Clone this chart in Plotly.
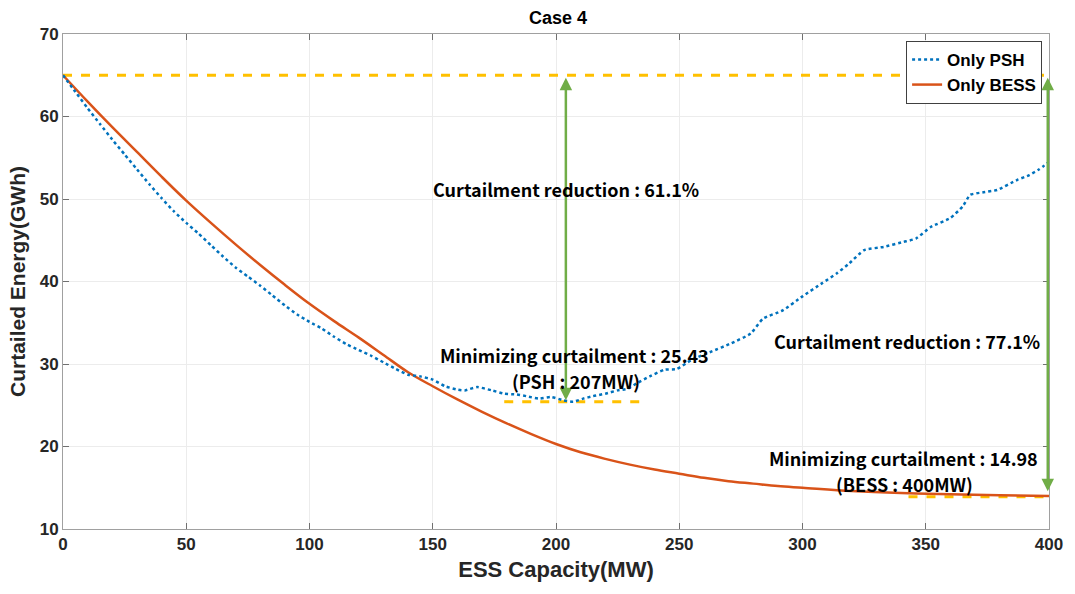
import plotly.graph_objects as go

# ---- data ----
psh_x = [0, 5, 10, 15, 20, 25, 30, 35, 40, 45, 50, 55, 60, 65, 70, 75, 80, 85, 90, 95,
         100, 105, 110, 115, 120, 125, 130, 135, 140, 145, 150, 155, 160, 163, 168, 174,
         179, 184, 188, 193, 198, 203, 207, 211, 215, 220, 225, 229, 233, 238, 244, 249,
         255, 263, 271, 279, 284, 292, 300, 308, 314, 319, 325, 333, 341, 346, 352, 360,
         365, 368, 373, 379, 387, 392, 396, 400]
psh_y = [65.0, 63.0, 61.0, 59.1, 57.2, 55.4, 53.6, 51.8, 50.1, 48.5, 47.1, 45.8, 44.4, 43.0,
         41.7, 40.6, 39.5, 38.3, 37.1, 36.0, 35.1, 34.3, 33.3, 32.4, 31.7, 31.0, 30.2, 29.4,
         28.7, 28.5, 28.1, 27.3, 26.9, 26.8, 27.2, 26.8, 26.4, 26.3, 26.1, 25.8, 26.0, 25.6,
         25.43, 25.8, 26.1, 26.4, 26.8, 27.0, 27.7, 28.5, 29.3, 29.4, 30.5, 31.5, 32.5, 33.7,
         35.5, 36.5, 38.2, 39.8, 41.0, 42.2, 43.8, 44.2, 44.8, 45.2, 46.6, 47.7, 49.1, 50.5,
         50.8, 51.1, 52.3, 52.9, 53.6, 54.5]

bess_x = [0, 10, 20, 30, 40, 50, 60, 70, 80, 90, 100, 110, 120, 130, 140, 150, 160, 170,
          180, 190, 200, 210, 220, 230, 240, 250, 260, 270, 280, 290, 300, 320, 340, 360,
          380, 400]
bess_y = [65.0, 61.8, 58.7, 55.7, 52.7, 49.8, 47.1, 44.5, 42.0, 39.6, 37.3, 35.2, 33.2,
          31.1, 29.0, 27.3, 25.7, 24.2, 22.8, 21.5, 20.3, 19.3, 18.5, 17.8, 17.2, 16.7,
          16.2, 15.8, 15.5, 15.2, 15.0, 14.6, 14.35, 14.2, 14.1, 14.0]

base_level = 65.0
psh_min_level = 25.43
bess_min_level = 13.9
psh_min_range = [179, 236]
bess_min_range = [343, 400]
base_range = [0, 400]
psh_arrow_x = 204
bess_arrow_x = 399.5

x_ticks = [0, 50, 100, 150, 200, 250, 300, 350, 400]
y_ticks = [10, 20, 30, 40, 50, 60, 70]

# annotation texts: (x, y, text)
labels = [
    (204, 51.2, "Curtailment reduction : 61.1%"),
    (342.3, 32.8, "Curtailment reduction : 77.1%"),
    (207.5, 31.05, "Minimizing curtailment : 25.43"),
    (208.0, 27.95, "(PSH : 207MW)"),
    (341.0, 18.55, "Minimizing curtailment : 14.98"),
    (341.5, 15.45, "(BESS : 400MW)"),
]

BLUE = "#0072BD"
ORANGE = "#D95319"
GOLD = "#FFC000"
GREEN = "#70AD47"
TXT = "#262626"
ANN_FONT = "Noto Sans CJK KR"

fig = go.Figure()

# yellow reference dashes
for xr, lvl in [(base_range, base_level), (psh_min_range, psh_min_level), (bess_min_range, bess_min_level)]:
    fig.add_trace(go.Scatter(x=xr, y=[lvl, lvl], mode="lines", showlegend=False,
                             line=dict(color=GOLD, width=3, dash="dash"), hoverinfo="skip"))

fig.add_trace(go.Scatter(x=bess_x, y=bess_y, mode="lines", name="Only BESS",
                         line=dict(color=ORANGE, width=2.5, shape="spline"), legendrank=2))
fig.add_trace(go.Scatter(x=psh_x, y=psh_y, mode="lines", name="Only PSH",
                         line=dict(color=BLUE, width=2.5, dash="dot", shape="spline", smoothing=0.5),
                         legendrank=1))

# green double-headed arrows
for ax_x, lo in [(psh_arrow_x, psh_min_level), (bess_arrow_x, bess_min_level + 0.5)]:
    fig.add_annotation(x=ax_x, y=base_level - 0.3, ax=ax_x, ay=lo, xref="x", yref="y",
                       axref="x", ayref="y", showarrow=True, arrowhead=2, startarrowhead=2,
                       arrowside="end+start", arrowsize=1, startarrowsize=1,
                       arrowwidth=2.5, arrowcolor=GREEN, text="")

ann_font = dict(family=ANN_FONT, size=18, color="black", weight="bold")
for lx, ly, lt in labels:
    fig.add_annotation(x=lx, y=ly, text=lt, showarrow=False, font=ann_font, borderpad=0)

axis_common = dict(showline=True, linecolor="#a0a0a0", linewidth=1, mirror="ticks",
                   ticks="inside", ticklen=6, tickcolor="#707070",
                   showgrid=True, gridcolor="#ececec", gridwidth=1, zeroline=False,
                   tickfont=dict(family="Liberation Sans", size=17, color=TXT, weight="bold"))

fig.update_xaxes(range=[0, 400], tickvals=x_ticks, **axis_common,
                 title=dict(text="ESS Capacity(MW)", standoff=8,
                            font=dict(family="Liberation Sans", size=22, color=TXT, weight="bold")))
fig.update_yaxes(range=[10, 70], tickvals=y_ticks, **axis_common,
                 title=dict(text="Curtailed Energy(GWh)", standoff=8,
                            font=dict(family="Liberation Sans", size=21, color=TXT, weight="bold")))

fig.update_layout(
    width=1075, height=594,
    margin=dict(l=63, r=22, t=34, b=65),
    paper_bgcolor="white", plot_bgcolor="white",
    title=dict(text="Case 4", x=0.519, xanchor="center", y=0.971, yanchor="middle",
               font=dict(family="Liberation Sans", size=18, color="black", weight="bold")),
    legend=dict(x=0.993, y=0.986, xanchor="right", yanchor="top",
                bgcolor="white", bordercolor="#404040", borderwidth=1,
                font=dict(family="Liberation Sans", size=17, color="black", weight="bold"),
                itemwidth=30, tracegroupgap=0),
    showlegend=True,
)

fig.write_html("out.html")
